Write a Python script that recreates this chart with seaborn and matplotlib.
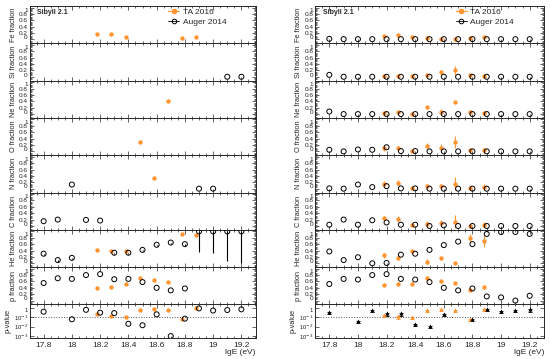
# composition fractions vs lgE, TA 2016 vs Auger 2014, two columns of stacked panels.

import matplotlib
matplotlib.use("Agg")
import matplotlib.pyplot as plt
import matplotlib.ticker as mticker
import matplotlib.transforms as mtrans
from matplotlib.lines import Line2D
import numpy as np
import pandas as pd
import seaborn as sns

sns.set_style("ticks")
plt.rcParams['font.family'] = ['Liberation Sans', 'DejaVu Sans']

nan = np.nan
species = ['Fe', 'Si', 'Ne', 'O', 'N', 'C', 'He', 'p']

# energy bins
lge_auger = [17.8, 17.9, 18.0, 18.1, 18.2, 18.3, 18.4, 18.5, 18.6, 18.7, 18.8, 18.9, 19.0, 19.1, 19.2]
lge_ta = [18.18, 18.28, 18.38, 18.48, 18.58, 18.68, 18.78, 18.88]

# ---- left column
left_auger_fe = [nan] * 15
left_auger_si = [nan, nan, nan, nan, nan, nan, nan, nan, nan, nan, nan, nan, nan, 0.0, 0.0]
left_auger_ne = [nan] * 15
left_auger_o = [nan] * 15
left_auger_n = [nan, nan, 0.13, nan, nan, nan, nan, nan, nan, nan, nan, 0.0, 0.0, nan, nan]
left_auger_c = [0.15, 0.2, nan, 0.19, 0.17, nan, nan, nan, nan, nan, nan, nan, nan, nan, nan]
left_auger_he = [0.3, 0.1, 0.17, nan, nan, 0.33, 0.33, 0.42, 0.58, 0.65, 0.6, 1.0, 1.0, 1.0, 1.0]
left_auger_he_errlo = [0.03, 0.05, 0.04, 0, 0, 0.03, 0.03, 0.03, 0.03, 0.05, 0.05, 0.66, 0.68, 0.93, 0.98]
left_auger_p = [0.55, 0.7, 0.68, 0.8, 0.83, 0.67, 0.68, 0.58, 0.4, 0.32, 0.38, nan, nan, nan, nan]
left_auger_pval = [0.38, nan, 0.06, 0.6, 0.3, 0.27, 0.02, 0.014, 0.2, 0.001, 0.07, 0.85, 0.5, 0.57, 0.67]

left_ta_fe = [0.18, 0.18, 0.09, nan, nan, nan, 0.06, 0.08]
left_ta_si = [nan] * 8
left_ta_ne = [nan, nan, nan, nan, nan, 0.4, nan, nan]
left_ta_o = [nan, nan, nan, 0.28, nan, nan, nan, nan]
left_ta_n = [nan, nan, nan, nan, 0.33, nan, nan, nan]
left_ta_c = [nan] * 8
left_ta_he = [0.42, 0.4, 0.4, nan, nan, nan, 0.93, 0.9]
left_ta_p = [0.4, 0.42, 0.53, 0.72, 0.65, 0.58, nan, nan]
left_ta_pval = [0.2, 0.15, 0.11, 0.57, 0.8, 0.57, 0.065, 0.9]

# ---- right column
right_auger_fe = [0.02, 0.01, 0.01, 0.01, 0.01, 0.01, 0.01, 0.01, 0.01, 0.01, 0.01, 0.01, 0.01, 0.01, 0.01]
right_auger_si = [0.06, 0, 0, 0, 0, 0, 0, 0, 0, 0, 0, 0, 0, 0, 0]
right_auger_ne = [0.08, 0, 0, 0, 0, 0, 0, 0, 0, 0, 0, 0, 0, 0, 0]
right_auger_o = [0.05, 0, 0.06, 0.05, 0.13, 0.01, 0.01, 0, 0, 0, 0, 0, 0, 0, 0]
right_auger_n = [0.01, 0, 0.13, 0.05, 0.08, 0.01, 0.01, 0, 0, 0, 0, 0, 0, 0, 0]
right_auger_c = [0.04, 0.2, 0.04, 0.18, 0.11, 0.04, 0.04, 0, 0.02, 0, 0, 0, 0, 0, 0]
right_auger_he = [0.37, 0.1, 0.19, 0.0, 0.01, 0.27, 0.3, 0.42, 0.57, 0.68, 0.6, 0.92, 0.98, 0.98, 0.92]
right_auger_p = [0.52, 0.68, 0.66, 0.8, 0.83, 0.68, 0.66, 0.58, 0.4, 0.32, 0.38, 0.13, 0.1, 0.0, 0.15]
right_auger_pval = [0.35, nan, 0.04, 0.55, 0.25, 0.25, 0.02, 0.012, 0.22, nan, 0.07, 0.7, 0.5, 0.55, 0.65]

right_ta_fe = [0.12, 0.13, 0.08, 0.04, 0.03, 0.02, 0.06, 0.09]
right_ta_si = [0.02, 0.01, 0.01, 0.06, 0.14, 0.2, 0.06, 0.03]
right_ta_ne = [0.02, 0.05, 0.0, 0.22, 0.07, 0.38, 0.07, 0.02]
right_ta_o = [0.1, 0.1, 0.02, 0.18, 0.12, 0.3, 0.05, 0.03]
right_ta_n = [0.16, 0.19, 0.01, 0.08, 0.07, 0.16, 0.01, 0.05]
right_ta_c = [0.25, 0.23, 0.02, 0.06, 0.09, 0.13, 0.01, 0.04]
right_ta_he = [0.25, 0.17, 0.37, 0.05, 0.15, 0.01, 0.8, 0.7]
right_ta_p = [0.5, 0.53, 0.53, 0.7, 0.62, 0.55, 0.33, 0.42]
right_ta_pval = [0.18, 0.12, 0.1, 0.6, 0.7, 0.6, 0.06, 0.8]

# TA uncertainties (right column)
right_ta_fe_err = [0.02, 0.02, 0.02, 0.02, 0.02, 0.02, 0.02, 0.02]
right_ta_si_err = [0.02, 0.02, 0.02, 0.04, 0.08, 0.15, 0.03, 0.03]
right_ta_ne_err = [0.02, 0.04, 0.02, 0.03, 0.1, 0.03, 0.06, 0.04]
right_ta_o_err = [0.1, 0.08, 0.03, 0.08, 0.1, 0.18, 0.04, 0.08]
right_ta_n_err = [0.08, 0.08, 0.03, 0.08, 0.09, 0.2, 0.03, 0.1]
right_ta_c_err = [0.06, 0.08, 0.03, 0.1, 0.1, 0.2, 0.02, 0.08]
right_ta_he_err = [0.07, 0.06, 0.05, 0.07, 0.06, 0.02, 0.12, 0.2]
right_ta_p_err = [0.04, 0.04, 0.04, 0.04, 0.04, 0.04, 0.04, 0.06]

ORANGE = '#ff9430'
W, H = 550, 359

left_auger = [left_auger_fe, left_auger_si, left_auger_ne, left_auger_o,
              left_auger_n, left_auger_c, left_auger_he, left_auger_p]
left_ta = [left_ta_fe, left_ta_si, left_ta_ne, left_ta_o,
           left_ta_n, left_ta_c, left_ta_he, left_ta_p]
right_auger = [right_auger_fe, right_auger_si, right_auger_ne, right_auger_o,
               right_auger_n, right_auger_c, right_auger_he, right_auger_p]
right_ta = [right_ta_fe, right_ta_si, right_ta_ne, right_ta_o,
            right_ta_n, right_ta_c, right_ta_he, right_ta_p]
right_ta_err = [right_ta_fe_err, right_ta_si_err, right_ta_ne_err, right_ta_o_err,
                right_ta_n_err, right_ta_c_err, right_ta_he_err, right_ta_p_err]

fig = plt.figure(figsize=(5.5, 3.59), dpi=100)
all_axes = []


def style_axis(ax):
    ax.set_xlim(17.7, 19.3)
    ax.xaxis.set_major_locator(mticker.MultipleLocator(0.2))
    ax.xaxis.set_minor_locator(mticker.MultipleLocator(0.05))
    ax.xaxis.set_major_formatter(mticker.FuncFormatter(lambda v, p: f'{v:g}'))
    ax.tick_params(which='both', direction='in', top=True, right=True, width=0.5, labelsize=4.6, pad=1.2)
    ax.tick_params(which='major', length=3)
    ax.tick_params(which='minor', length=1.5)
    for s in ax.spines.values():
        s.set_linewidth(0.7)
    ax.set_xlabel('')


def draw_column(x0, x1, auger, ta, ta_err, auger_he_errlo, pval_auger, pval_ta, pmarker):
    top, frac_h, bottom = 6, 37.3, 338
    axes = []
    for i, name in enumerate(species):
        y_top = top + i * frac_h
        ax = fig.add_axes([x0 / W, 1 - (y_top + frac_h) / H, (x1 - x0) / W, frac_h / H])
        dfa = pd.DataFrame({'lgE': lge_auger, 'frac': auger[i]})
        dft = pd.DataFrame({'lgE': lge_ta, 'frac': ta[i]})
        if name == 'He' and auger_he_errlo is not None:
            ax.errorbar(lge_auger, auger[i], yerr=[auger_he_errlo, [0] * 15], fmt='none',
                        ecolor='black', elinewidth=0.8, capsize=0, zorder=1)
        if ta_err is not None:
            ax.errorbar(lge_ta, ta[i], yerr=ta_err[i], fmt='none',
                        ecolor=ORANGE, elinewidth=0.8, capsize=0, zorder=1)
        sns.scatterplot(data=dft, x='lgE', y='frac', ax=ax, color=ORANGE, s=10,
                        linewidth=0, zorder=3)
        sns.scatterplot(data=dfa, x='lgE', y='frac', ax=ax, facecolor='none', edgecolor='black',
                        s=13, linewidth=0.7, zorder=4)
        ax.set_ylim(-0.12, 1.05)
        ax.yaxis.set_major_locator(mticker.MultipleLocator(0.2))
        ax.yaxis.set_minor_locator(mticker.MultipleLocator(0.04))
        ax.yaxis.set_major_formatter(mticker.FuncFormatter(lambda v, p: f'{v:g}'))
        style_axis(ax)
        ax.tick_params(labelbottom=False)
        ax.set_ylabel(f'{name} fraction', fontsize=5.3, labelpad=1.5)
        axes.append(ax)
        all_axes.append(ax)

    # p-value panel
    y_top = top + 8 * frac_h
    ax = fig.add_axes([x0 / W, 1 - bottom / H, (x1 - x0) / W, (bottom - y_top) / H])
    ax.set_yscale('log')
    ax.axhline(0.1, ls=':', color='#555555', lw=0.7, zorder=0)
    if pmarker == 'o':
        sns.scatterplot(x=lge_ta, y=pval_ta, ax=ax, color=ORANGE, s=10, linewidth=0, zorder=3)
        sns.scatterplot(x=lge_auger, y=pval_auger, ax=ax, facecolor='none', edgecolor='black',
                        s=13, linewidth=0.7, zorder=4)
    else:
        ta_arr = np.array(pval_ta)
        au_arr = np.array(pval_auger)
        ax.errorbar(lge_ta, ta_arr, yerr=[ta_arr * 0.4, ta_arr * 0],
                    fmt='none', ecolor=ORANGE, elinewidth=0.6, capsize=1.3, capthick=0.6, zorder=2)
        ax.errorbar(lge_auger, au_arr, yerr=[au_arr * 0.4, au_arr * 0],
                    fmt='none', ecolor='black', elinewidth=0.6, capsize=1.3, capthick=0.6, zorder=2)
        sns.scatterplot(x=lge_ta, y=pval_ta, ax=ax, color=ORANGE, marker='^', s=9, linewidth=0, zorder=3)
        sns.scatterplot(x=lge_auger, y=pval_auger, ax=ax, color='black', marker='^', s=9, linewidth=0, zorder=4)
    ax.set_ylim(10 ** -3.2, 10 ** 0.35)
    ax.yaxis.set_major_locator(mticker.FixedLocator([1e-3, 1e-2, 1e-1, 1]))
    ax.yaxis.set_major_formatter(mticker.FixedFormatter(['10$^{-3}$', '10$^{-2}$', '10$^{-1}$', '1']))
    ax.yaxis.set_minor_locator(mticker.LogLocator(subs=np.arange(2, 10)))
    ax.yaxis.set_minor_formatter(mticker.NullFormatter())
    style_axis(ax)
    ax.tick_params(axis='y', labelsize=4.2)
    ax.tick_params(axis='x', labelsize=6, pad=3)
    ax.set_ylabel('p-value', fontsize=5.3, labelpad=1.5)
    all_axes.append(ax)
    fig.text(x1 / W, 1 - 353 / H, 'lgE (eV)', ha='right', va='center', fontsize=6)

    # legend and model label in the top panel
    axes[0].text(0.035, 0.82, 'Sibyll 2.1', transform=axes[0].transAxes, fontsize=5,
                 fontweight='bold', va='center')
    handles = [Line2D([], [], color=ORANGE, marker='o', markersize=3, lw=0.8, mec=ORANGE),
               Line2D([], [], color='black', marker='o', markersize=3.3, lw=0.6, mfc='none', mew=0.7)]
    axes[0].legend(handles, ['TA 2016', 'Auger 2014'], loc='upper left', bbox_to_anchor=(0.6, 1.04),
                   frameon=False, fontsize=6, handlelength=1.3, handletextpad=0.4, labelspacing=0.25,
                   borderaxespad=0)


draw_column(29.5, 255.5, left_auger, left_ta, None, left_auger_he_errlo,
            left_auger_pval, left_ta_pval, 'o')
draw_column(315, 544, right_auger, right_ta, right_ta_err, None,
            right_auger_pval, right_ta_pval, '^')

# nudge the top/bottom y labels a little inward so neighbouring panels don't collide
fig.canvas.draw()
down = mtrans.ScaledTranslation(0, -1.6 / 72, fig.dpi_scale_trans)
up = mtrans.ScaledTranslation(0, 1.6 / 72, fig.dpi_scale_trans)
for ax in all_axes:
    for tick in ax.yaxis.get_major_ticks():
        txt = tick.label1.get_text()
        if txt == '1':
            tick.label1.set_transform(tick.label1.get_transform() + down)
        elif txt == '0':
            tick.label1.set_transform(tick.label1.get_transform() + up)

fig.savefig('out.png', dpi=100)
